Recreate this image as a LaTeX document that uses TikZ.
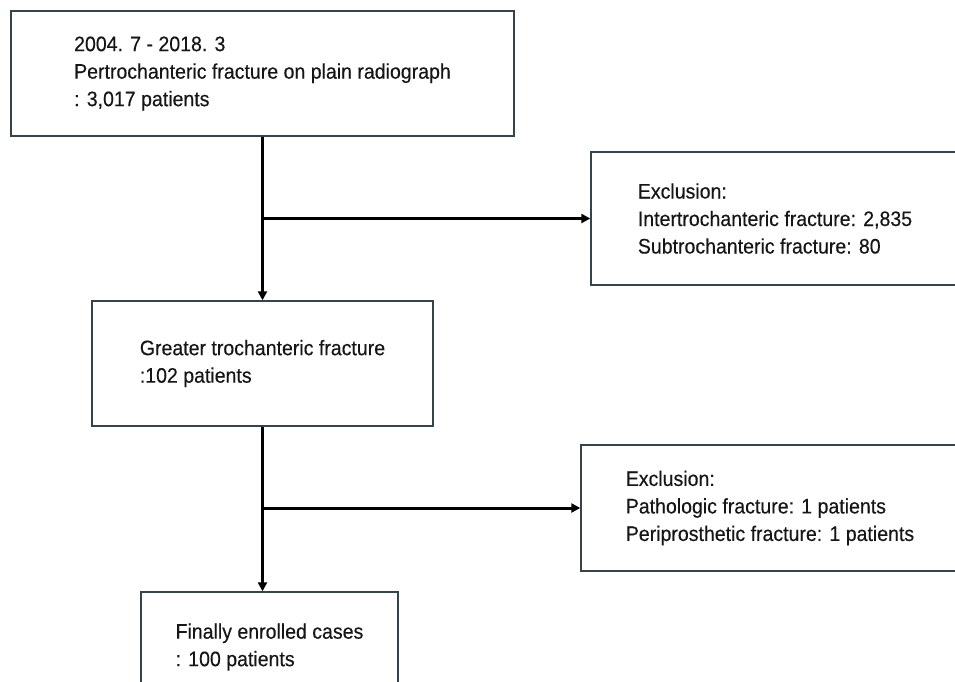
\documentclass[tikz,border=0pt]{standalone}
\usepackage{fontspec}
\setmainfont{Liberation Sans}[FakeStretch=0.93, FakeBold=0.3]
\usepackage{tikz}
\usetikzlibrary{arrows.meta,calc,positioning}
\tikzset{
  flowbox/.style = {draw=my_frame, line width=1.4pt, fill=white, align=left,
  text=my_text, inner sep=0pt, font=\fontsize{21}{27.5}\selectfont},
  box_main/.style = {flowbox, minimum height=125pt},
  box_excl/.style = {flowbox, minimum height=130pt}
}
\definecolor{my_frame}{RGB}{52, 68, 72}
\definecolor{my_text}{RGB}{22, 22, 22}

\begin{document}
\begin{tikzpicture}[x=1pt, y=-1pt,
        	flow/.style={line width=3pt, black, -{Triangle[length=9pt,width=9pt]}}]
		    \clip (0,0) rectangle (955,682);
		    \fill[white] (0,0) rectangle (955,682);
		    \node [box_main, minimum width=503pt] (total) at (262.5,73.5)
		        {2004. 7 - 2018. 3\\Pertrochanteric fracture on plain radiograph\\: 3,017 patients};
		    \node [box_main, minimum width=341pt] (greater) at (262.5,363.5)
		        {Greater trochanteric fracture\\:102 patients};
		    \node [box_excl, minimum width=368pt, minimum height=133pt] (excl1) at (775,218.5)
		        {Exclusion:\\Intertrochanteric fracture: 2,835\\Subtrochanteric fracture: 80};
		    \node [box_excl, minimum width=378pt, minimum height=126pt] (excl2) at (770,508)
		        {Exclusion:\\Pathologic fracture: 1 patients\\Periprosthetic fracture: 1 patients};
		    \node [flowbox, minimum width=257pt, minimum height=110pt] (final) at (269.5,647)
		        {Finally enrolled cases\\: 100 patients};
		    % junctions on the main line
		    \coordinate (j1) at (total.south |- excl1.west);
		    \coordinate (j2) at (greater.south |- excl2.west);
		    \draw[flow] (total.south) -- (greater.north);
		    \draw[flow] (j1) -- (excl1.west);
		    \draw[flow] (greater.south) -- (greater.south |- final.north);
		    \draw[flow] (j2) -- (excl2.west);
		\end{tikzpicture}
\end{document}
